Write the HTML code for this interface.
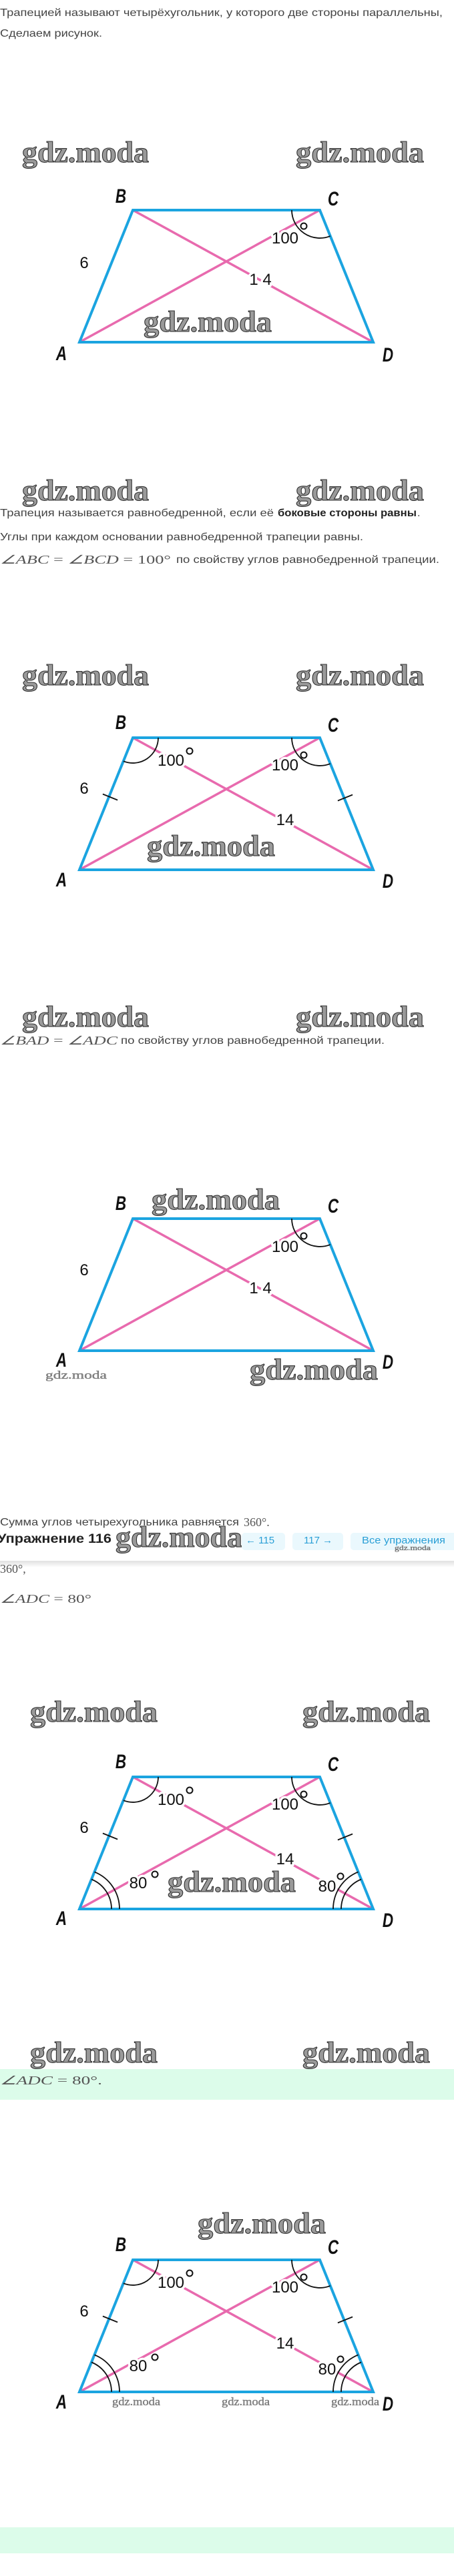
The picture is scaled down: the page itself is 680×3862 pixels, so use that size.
<!DOCTYPE html>
<html><head><meta charset="utf-8"><style>
html,body{margin:0;padding:0;background:#fff;}
svg{display:block;}
.t{font-family:"Liberation Sans",sans-serif;font-size:16px;fill:#444;}
.b{font-weight:bold;fill:#222;}
.m{font-family:"Liberation Serif",serif;font-size:18px;fill:#555;}
.mi{font-style:italic;}
.wm{font-family:"Liberation Serif",serif;font-weight:bold;font-size:44px;fill:#9a9a9a;stroke:#333;stroke-width:1.1;}
.ws{font-family:"Liberation Serif",serif;font-size:17px;fill:#888;stroke:#555;stroke-width:0.3;}
.L{font-family:"Liberation Sans",sans-serif;font-style:italic;font-weight:bold;font-size:30px;fill:#111;}
.n{font-family:"Liberation Sans",sans-serif;font-size:24px;fill:#111;paint-order:stroke;stroke:#fff;stroke-width:7px;stroke-linejoin:round;}
.pk{stroke:#e86aae;stroke-width:3.5;fill:none;}
.bl{stroke:#1ba4e0;stroke-width:4;fill:none;stroke-linejoin:miter;}
.ar{stroke:#111;stroke-width:1.8;fill:none;}
.dg{stroke:#111;stroke-width:2;fill:none;}
</style></head><body>
<svg width="680" height="3862" viewBox="0 0 680 3862" xmlns="http://www.w3.org/2000/svg">
<defs>
<g id="trap">
<line class="pk" x1="119" y1="198" x2="479" y2="0"/>
<line class="pk" x1="199" y1="0" x2="559" y2="198"/>
<polygon class="bl" points="199,0 479,0 559,198 119,198"/>
</g>
<linearGradient id="sh" x1="0" y1="0" x2="0" y2="1"><stop offset="0" stop-color="#000" stop-opacity="0.12"/><stop offset="1" stop-color="#000" stop-opacity="0"/></linearGradient>
</defs>

<!-- Section 1 -->
<text class="t" x="0" y="24" textLength="663" lengthAdjust="spacingAndGlyphs">Трапецией называют четырёхугольник, у которого две стороны параллельны,</text>
<text class="t" x="0" y="55" textLength="153" lengthAdjust="spacingAndGlyphs">Сделаем рисунок.</text>
<text class="wm" x="33" y="243" textLength="190" lengthAdjust="spacingAndGlyphs">gdz.moda</text>
<text class="wm" x="443" y="243" textLength="192" lengthAdjust="spacingAndGlyphs">gdz.moda</text>
<g transform="translate(0,315)">
<use href="#trap"/>
<path class="ar" d="M437,0 A42,42 0 0 0 494.7,38.9"/>
</g>
<text class="wm" x="311" y="497" text-anchor="middle" textLength="192" lengthAdjust="spacingAndGlyphs">gdz.moda</text>
<text class="L" x="181" y="304" text-anchor="middle" transform="translate(181,0) scale(0.75,1) translate(-181,0)">B</text>
<text class="L" x="499" y="308" text-anchor="middle" transform="translate(499,0) scale(0.75,1) translate(-499,0)">C</text>
<text class="L" x="92" y="540" text-anchor="middle" transform="translate(92,0) scale(0.75,1) translate(-92,0)">A</text>
<text class="L" x="581" y="542" text-anchor="middle" transform="translate(581,0) scale(0.75,1) translate(-581,0)">D</text>
<text class="n" x="126" y="402" text-anchor="middle">6</text>
<text class="n" x="390" y="427" text-anchor="middle">1 4</text>
<text class="n" x="427" y="365" text-anchor="middle">100</text>
<circle class="dg" cx="455" cy="339" r="4.5"/>

<!-- Section 2 -->
<text class="wm" x="33" y="750" textLength="190" lengthAdjust="spacingAndGlyphs">gdz.moda</text>
<text class="wm" x="443" y="750" textLength="192" lengthAdjust="spacingAndGlyphs">gdz.moda</text>
<text class="t" x="0" y="774" textLength="410" lengthAdjust="spacingAndGlyphs">Трапеция называется равнобедренной, если её</text>
<text class="t b" x="416" y="774" textLength="208" lengthAdjust="spacingAndGlyphs">боковые стороны равны</text>
<text class="t" x="625" y="774">.</text>
<text class="t" x="0" y="810" textLength="544" lengthAdjust="spacingAndGlyphs">Углы при каждом основании равнобедренной трапеции равны.</text>
<text class="m" x="0" y="845" textLength="256" lengthAdjust="spacingAndGlyphs"><tspan class="mi">∠ABC</tspan>  =  <tspan class="mi">∠BCD</tspan>  =  100°</text>
<text class="t" x="264" y="844" textLength="394" lengthAdjust="spacingAndGlyphs">по свойству углов равнобедренной трапеции.</text>
<text class="wm" x="33" y="1027" textLength="190" lengthAdjust="spacingAndGlyphs">gdz.moda</text>
<text class="wm" x="443" y="1027" textLength="192" lengthAdjust="spacingAndGlyphs">gdz.moda</text>
<g transform="translate(0,1106)">
<use href="#trap"/>
<path class="ar" d="M237,0 A38,38 0 0 1 184.8,35.2"/>
<path class="ar" d="M437,0 A42,42 0 0 0 494.7,38.9"/>
<line class="ar" x1="153.9" y1="84.5" x2="176.1" y2="93.5"/>
<line class="ar" x1="505.9" y1="94.5" x2="528.1" y2="85.5"/>
</g>
<text class="wm" x="316" y="1283" text-anchor="middle" textLength="192" lengthAdjust="spacingAndGlyphs">gdz.moda</text>
<text class="L" x="181" y="1093" text-anchor="middle" transform="translate(181,0) scale(0.75,1) translate(-181,0)">B</text>
<text class="L" x="499" y="1097" text-anchor="middle" transform="translate(499,0) scale(0.75,1) translate(-499,0)">C</text>
<text class="L" x="92" y="1329" text-anchor="middle" transform="translate(92,0) scale(0.75,1) translate(-92,0)">A</text>
<text class="L" x="581" y="1331" text-anchor="middle" transform="translate(581,0) scale(0.75,1) translate(-581,0)">D</text>
<text class="n" x="126" y="1190" text-anchor="middle">6</text>
<text class="n" x="256" y="1148" text-anchor="middle">100</text>
<circle class="dg" cx="284" cy="1126" r="4.5"/>
<text class="n" x="427" y="1155" text-anchor="middle">100</text>
<circle class="dg" cx="455" cy="1132" r="4.5"/>
<text class="n" x="427" y="1237" text-anchor="middle">14</text>

<!-- Section 3 -->
<text class="wm" x="33" y="1539" textLength="190" lengthAdjust="spacingAndGlyphs">gdz.moda</text>
<text class="wm" x="443" y="1539" textLength="192" lengthAdjust="spacingAndGlyphs">gdz.moda</text>
<text class="m mi" x="0" y="1566" textLength="176" lengthAdjust="spacingAndGlyphs">∠BAD  <tspan font-style="normal">=</tspan>  ∠ADC</text>
<text class="t" x="181" y="1565" textLength="395" lengthAdjust="spacingAndGlyphs">по свойству углов равнобедренной трапеции.</text>
<g transform="translate(0,1827)">
<use href="#trap"/>
<path class="ar" d="M437,0 A42,42 0 0 0 494.7,38.9"/>
</g>
<text class="wm" x="323" y="1813" text-anchor="middle" textLength="192" lengthAdjust="spacingAndGlyphs">gdz.moda</text>
<text class="wm" x="470" y="2068" text-anchor="middle" textLength="192" lengthAdjust="spacingAndGlyphs">gdz.moda</text>
<text class="ws" x="114" y="2067" text-anchor="middle" textLength="92" lengthAdjust="spacingAndGlyphs">gdz.moda</text>
<text class="L" x="181" y="1814" text-anchor="middle" transform="translate(181,0) scale(0.75,1) translate(-181,0)">B</text>
<text class="L" x="499" y="1818" text-anchor="middle" transform="translate(499,0) scale(0.75,1) translate(-499,0)">C</text>
<text class="L" x="92" y="2049" text-anchor="middle" transform="translate(92,0) scale(0.75,1) translate(-92,0)">A</text>
<text class="L" x="581" y="2052" text-anchor="middle" transform="translate(581,0) scale(0.75,1) translate(-581,0)">D</text>
<text class="n" x="126" y="1912" text-anchor="middle">6</text>
<text class="n" x="390" y="1939" text-anchor="middle">1 4</text>
<text class="n" x="427" y="1877" text-anchor="middle">100</text>
<circle class="dg" cx="455" cy="1853" r="4.5"/>

<!-- Section 4 -->
<text class="t" x="0" y="2287" textLength="358" lengthAdjust="spacingAndGlyphs">Сумма углов четырехугольника равняется</text>
<text class="m" x="365" y="2288">360°.</text>
<text class="m" x="0" y="2358">360°,</text>
<rect x="0" y="2292" width="680" height="48" fill="#fff"/>
<rect x="0" y="2340" width="680" height="10" fill="url(#sh)"/>
<text class="t b" x="-4" y="2313" textLength="171" lengthAdjust="spacingAndGlyphs" style="font-size:19px">Упражнение 116</text>
<text class="wm" x="173" y="2319" textLength="190" lengthAdjust="spacingAndGlyphs">gdz.moda</text>
<rect x="362" y="2298" width="65" height="26" rx="5" fill="#eaf8fd"/>
<rect x="438" y="2298" width="76" height="26" rx="5" fill="#eaf8fd"/>
<rect x="525" y="2298" width="160" height="26" rx="5" fill="#eaf8fd"/>
<text class="t" x="368" y="2314" style="fill:#2a9fd6;font-size:15px">← 115</text>
<text class="t" x="455" y="2314" style="fill:#2a9fd6;font-size:15px">117 →</text>
<text class="t" x="542" y="2314" textLength="125" lengthAdjust="spacingAndGlyphs" style="fill:#2a9fd6;font-size:15px">Все упражнения</text>
<text class="ws" x="618" y="2324" text-anchor="middle" textLength="54" lengthAdjust="spacingAndGlyphs" style="font-size:11px">gdz.moda</text>
<text class="m" x="0" y="2403" textLength="137" lengthAdjust="spacingAndGlyphs"><tspan class="mi">∠ADC</tspan>  =  80°</text>
<text class="wm" x="45" y="2581" textLength="191" lengthAdjust="spacingAndGlyphs">gdz.moda</text>
<text class="wm" x="453" y="2581" textLength="191" lengthAdjust="spacingAndGlyphs">gdz.moda</text>
<g transform="translate(0,2664)">
<use href="#trap"/>
<path class="ar" d="M237,0 A38,38 0 0 1 184.8,35.2"/>
<path class="ar" d="M437,0 A42,42 0 0 0 494.7,38.9"/>
<path class="ar" d="M167,198 A48,48 0 0 0 137,153.5"/>
<path class="ar" d="M179,198 A60,60 0 0 0 141.5,142.4"/>
<path class="ar" d="M511,198 A48,48 0 0 1 541,153.5"/>
<path class="ar" d="M499,198 A60,60 0 0 1 536.5,142.4"/>
<line class="ar" x1="153.9" y1="84.5" x2="176.1" y2="93.5"/>
<line class="ar" x1="505.9" y1="94.5" x2="528.1" y2="85.5"/>
</g>
<text class="wm" x="347" y="2836" text-anchor="middle" textLength="192" lengthAdjust="spacingAndGlyphs">gdz.moda</text>
<text class="L" x="181" y="2651" text-anchor="middle" transform="translate(181,0) scale(0.75,1) translate(-181,0)">B</text>
<text class="L" x="499" y="2655" text-anchor="middle" transform="translate(499,0) scale(0.75,1) translate(-499,0)">C</text>
<text class="L" x="92" y="2886" text-anchor="middle" transform="translate(92,0) scale(0.75,1) translate(-92,0)">A</text>
<text class="L" x="581" y="2889" text-anchor="middle" transform="translate(581,0) scale(0.75,1) translate(-581,0)">D</text>
<text class="n" x="126" y="2748" text-anchor="middle">6</text>
<text class="n" x="256" y="2706" text-anchor="middle">100</text>
<circle class="dg" cx="284" cy="2684" r="4.5"/>
<text class="n" x="427" y="2713" text-anchor="middle">100</text>
<circle class="dg" cx="455" cy="2690" r="4.5"/>
<text class="n" x="427" y="2795" text-anchor="middle">14</text>
<text class="n" x="207" y="2831" text-anchor="middle">80</text>
<circle class="dg" cx="232" cy="2810" r="4.5"/>
<text class="n" x="490" y="2836" text-anchor="middle">80</text>
<circle class="dg" cx="510" cy="2813" r="4.5"/>

<!-- Section 5 -->
<text class="wm" x="45" y="3092" textLength="191" lengthAdjust="spacingAndGlyphs">gdz.moda</text>
<text class="wm" x="453" y="3092" textLength="191" lengthAdjust="spacingAndGlyphs">gdz.moda</text>
<rect x="0" y="3102" width="680" height="46" fill="#dcfcea"/>
<text class="m" x="0" y="3125" textLength="153" lengthAdjust="spacingAndGlyphs"><tspan class="mi">∠ADC</tspan>  =  80°.</text>
<text class="wm" x="392" y="3348" text-anchor="middle" textLength="192" lengthAdjust="spacingAndGlyphs">gdz.moda</text>
<g transform="translate(0,3388)">
<use href="#trap"/>
<path class="ar" d="M237,0 A38,38 0 0 1 184.8,35.2"/>
<path class="ar" d="M437,0 A42,42 0 0 0 494.7,38.9"/>
<path class="ar" d="M167,198 A48,48 0 0 0 137,153.5"/>
<path class="ar" d="M179,198 A60,60 0 0 0 141.5,142.4"/>
<path class="ar" d="M511,198 A48,48 0 0 1 541,153.5"/>
<path class="ar" d="M499,198 A60,60 0 0 1 536.5,142.4"/>
<line class="ar" x1="153.9" y1="84.5" x2="176.1" y2="93.5"/>
<line class="ar" x1="505.9" y1="94.5" x2="528.1" y2="85.5"/>
</g>
<text class="L" x="181" y="3375" text-anchor="middle" transform="translate(181,0) scale(0.75,1) translate(-181,0)">B</text>
<text class="L" x="499" y="3379" text-anchor="middle" transform="translate(499,0) scale(0.75,1) translate(-499,0)">C</text>
<text class="L" x="92" y="3611" text-anchor="middle" transform="translate(92,0) scale(0.75,1) translate(-92,0)">A</text>
<text class="L" x="581" y="3614" text-anchor="middle" transform="translate(581,0) scale(0.75,1) translate(-581,0)">D</text>
<text class="n" x="126" y="3473" text-anchor="middle">6</text>
<text class="n" x="256" y="3430" text-anchor="middle">100</text>
<circle class="dg" cx="284" cy="3408" r="4.5"/>
<text class="n" x="427" y="3437" text-anchor="middle">100</text>
<circle class="dg" cx="455" cy="3414" r="4.5"/>
<text class="n" x="427" y="3521" text-anchor="middle">14</text>
<text class="n" x="207" y="3555" text-anchor="middle">80</text>
<circle class="dg" cx="232" cy="3534" r="4.5"/>
<text class="n" x="490" y="3560" text-anchor="middle">80</text>
<circle class="dg" cx="510" cy="3537" r="4.5"/>
<text class="ws" x="204" y="3606" text-anchor="middle" textLength="72" lengthAdjust="spacingAndGlyphs">gdz.moda</text>
<text class="ws" x="368" y="3606" text-anchor="middle" textLength="72" lengthAdjust="spacingAndGlyphs">gdz.moda</text>
<text class="ws" x="532" y="3606" text-anchor="middle" textLength="72" lengthAdjust="spacingAndGlyphs">gdz.moda</text>
<rect x="0" y="3789" width="680" height="39" fill="#dcfcea"/>
</svg>
</body></html>
